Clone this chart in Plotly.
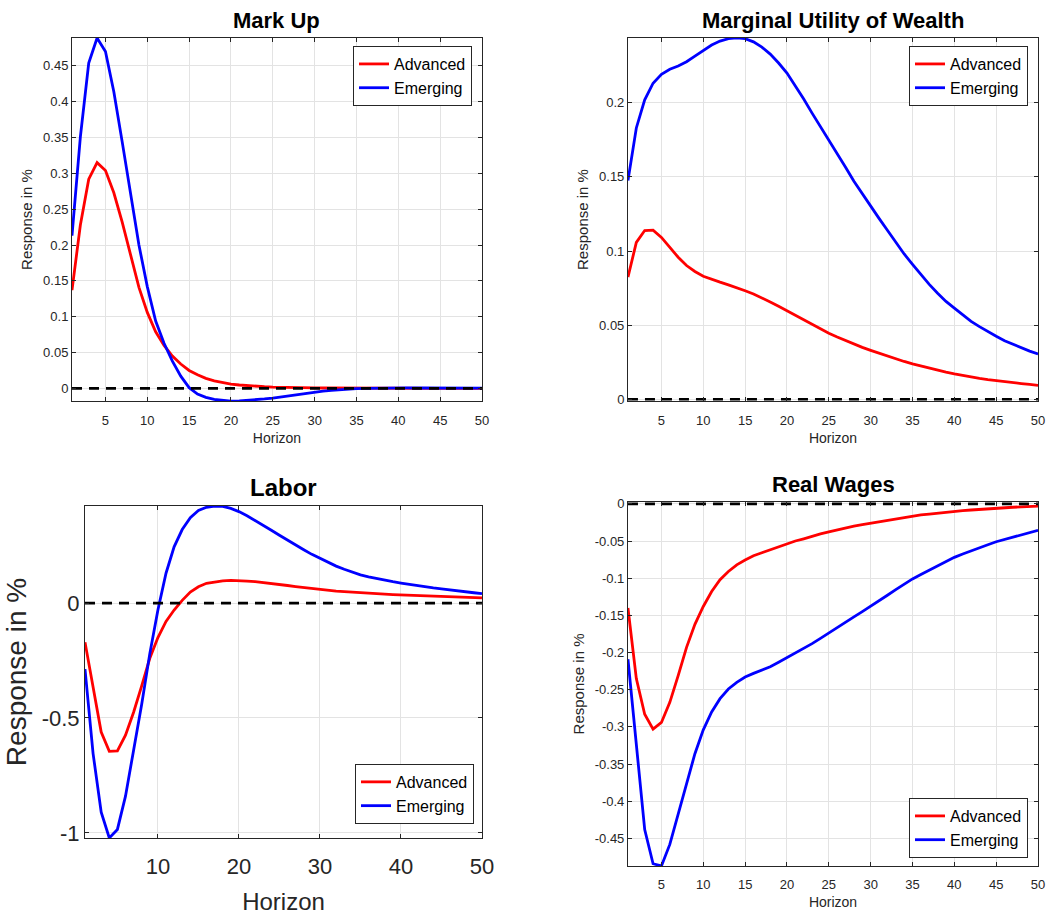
import plotly.graph_objects as go

horizon = list(range(1, 51))

markup_adv = [0.137, 0.228, 0.292, 0.315, 0.304, 0.273, 0.232, 0.187, 0.141, 0.106,
              0.079, 0.060, 0.045, 0.034, 0.025, 0.019, 0.014, 0.0105, 0.008, 0.006,
              0.0047, 0.0037, 0.0029, 0.0023, 0.0018, 0.0014, 0.0011, 0.0009, 0.0007, 0.0006,
              0.0005, 0.0004, 0.0004, 0.0003, 0.0003, 0.0003, 0.0002, 0.0002, 0.0002, 0.0002,
              0.0002, 0.0001, 0.0001, 0.0001, 0.0001, 0.0001, 0.0001, 0.0001, 0.0001, 0.0001]
markup_emg = [0.213, 0.351, 0.454, 0.489, 0.470, 0.414, 0.344, 0.272, 0.200, 0.142,
              0.094, 0.063, 0.038, 0.017, 0.001, -0.008, -0.0125, -0.0155, -0.0170, -0.0177,
              -0.0175, -0.0168, -0.0158, -0.0147, -0.0135, -0.0118, -0.0100, -0.0083, -0.0067, -0.0052,
              -0.0039, -0.0027, -0.0017, -0.0009, -0.0003, 0.0001, 0.0004, 0.0005, 0.0006, 0.0006,
              0.0006, 0.0005, 0.0005, 0.0004, 0.0004, 0.0003, 0.0003, 0.0002, 0.0002, 0.0002]

muw_adv = [0.0824, 0.1058, 0.1138, 0.1141, 0.1092, 0.1025, 0.0958, 0.0902, 0.0862, 0.0830,
           0.0808, 0.0790, 0.0772, 0.0754, 0.0732, 0.0710, 0.0685, 0.0656, 0.0627, 0.0596,
           0.0565, 0.0533, 0.0504, 0.0474, 0.0445, 0.0420, 0.0395, 0.0370, 0.0350, 0.0330,
           0.0310, 0.0290, 0.0272, 0.0255, 0.0239, 0.0224, 0.0210, 0.0196, 0.0183, 0.0171,
           0.0160, 0.0150, 0.0141, 0.0133, 0.0125, 0.0118, 0.0112, 0.0106, 0.0100, 0.0094]
muw_emg = [0.1475, 0.1830, 0.2020, 0.2132, 0.2192, 0.2226, 0.2248, 0.2277, 0.2315, 0.2355,
           0.2389, 0.2416, 0.2432, 0.2437, 0.2432, 0.2411, 0.2375, 0.2328, 0.2268, 0.2200,
           0.2115, 0.2025, 0.1930, 0.1840, 0.1750, 0.1660, 0.1565, 0.1470, 0.1385, 0.1300,
           0.1220, 0.1140, 0.1060, 0.0980, 0.0910, 0.0840, 0.0775, 0.0715, 0.0660, 0.0615,
           0.0570, 0.0525, 0.0490, 0.0455, 0.0425, 0.0395, 0.0370, 0.0345, 0.0325, 0.0305]

labor_adv = [-0.170, -0.370, -0.561, -0.645, -0.643, -0.575, -0.475, -0.360, -0.240, -0.150,
             -0.080, -0.030, 0.012, 0.048, 0.071, 0.086, 0.093, 0.097, 0.0985, 0.098,
             0.096, 0.093, 0.0895, 0.0855, 0.081, 0.0765, 0.072, 0.0675, 0.063, 0.059,
             0.0555, 0.0525, 0.0497, 0.047, 0.0447, 0.0425, 0.0405, 0.0387, 0.037, 0.0355,
             0.034, 0.0325, 0.031, 0.0297, 0.0284, 0.0272, 0.026, 0.0248, 0.0236, 0.0225]
labor_emg = [-0.287, -0.655, -0.910, -1.022, -0.985, -0.840, -0.640, -0.440, -0.220, -0.030,
             0.130, 0.245, 0.320, 0.372, 0.403, 0.417, 0.4225, 0.421, 0.412, 0.398,
             0.380, 0.360, 0.339, 0.317, 0.295, 0.273, 0.252, 0.232, 0.212, 0.194,
             0.177, 0.161, 0.147, 0.134, 0.123, 0.114, 0.106, 0.099, 0.093, 0.087,
             0.081, 0.076, 0.071, 0.066, 0.062, 0.057, 0.053, 0.049, 0.045, 0.041]

wages_adv = [-0.140, -0.235, -0.283, -0.303, -0.294, -0.267, -0.231, -0.193, -0.162, -0.138,
             -0.118, -0.102, -0.091, -0.082, -0.0756, -0.0698, -0.0658, -0.062, -0.0575, -0.0535,
             -0.050, -0.047, -0.0435, -0.0405, -0.0378, -0.035, -0.0325, -0.030, -0.028, -0.026,
             -0.024, -0.022, -0.020, -0.018, -0.0165, -0.015, -0.0137, -0.0124, -0.0112, -0.0102,
             -0.0092, -0.0083, -0.0074, -0.0066, -0.0058, -0.0052, -0.0046, -0.0040, -0.0035, -0.0031]
wages_emg = [-0.209, -0.322, -0.438, -0.484, -0.487, -0.458, -0.418, -0.376, -0.336, -0.304,
             -0.280, -0.262, -0.249, -0.240, -0.233, -0.228, -0.2236, -0.219, -0.213, -0.207,
             -0.201, -0.195, -0.188, -0.181, -0.1735, -0.166, -0.159, -0.152, -0.145, -0.138,
             -0.1305, -0.123, -0.1155, -0.108, -0.101, -0.095, -0.089, -0.083, -0.0775, -0.072,
             -0.0675, -0.063, -0.059, -0.055, -0.051, -0.0478, -0.0446, -0.0415, -0.0385, -0.0356]

zero_line = [0.0] * len(horizon)

titles = ["Mark Up", "Marginal Utility of Wealth", "Labor", "Real Wages"]
series_names = ["Advanced", "Emerging"]

xticks_fine = [5, 10, 15, 20, 25, 30, 35, 40, 45, 50]
xticks_coarse = [10, 20, 30, 40, 50]
yticks_markup = [0, 0.05, 0.1, 0.15, 0.2, 0.25, 0.3, 0.35, 0.4, 0.45]
ylabels_markup = ["0", "0.05", "0.1", "0.15", "0.2", "0.25", "0.3", "0.35", "0.4", "0.45"]
yticks_muw = [0, 0.05, 0.1, 0.15, 0.2]
ylabels_muw = ["0", "0.05", "0.1", "0.15", "0.2"]
yticks_labor = [-1, -0.5, 0]
ylabels_labor = ["-1", "-0.5", "0"]
yticks_wages = [0, -0.05, -0.1, -0.15, -0.2, -0.25, -0.3, -0.35, -0.4, -0.45]
ylabels_wages = ["0", "-0.05", "-0.1", "-0.15", "-0.2", "-0.25", "-0.3", "-0.35", "-0.4", "-0.45"]

FONT = "Liberation Sans, Arial, Helvetica, sans-serif"
RED = "#ff0000"
BLUE = "#0000ff"
AXC = "#262626"

panels = [
    dict(adv=markup_adv, emg=markup_emg, xt=xticks_fine, yt=yticks_markup, yl=ylabels_markup,
         xd=[0.0687, 0.4599], yd=[0.5617, 0.9585], tick=13, xtitle=14, ytitle=15, tsize=22,
         xso=7, xts=6, pad=(0, 0), leg=dict(x=0.4504, y=0.9497, yanchor="top")),
    dict(adv=muw_adv, emg=muw_emg, xt=xticks_fine, yt=yticks_muw, yl=ylabels_muw,
         xd=[0.5992, 0.9905], yd=[0.5617, 0.9585], tick=13, xtitle=14, ytitle=15, tsize=22,
         xso=7, xts=6, pad=(0.0012, 0), leg=dict(x=0.9809, y=0.9497, yanchor="top")),
    dict(adv=labor_adv, emg=labor_emg, xt=xticks_coarse, yt=yticks_labor, yl=ylabels_labor,
         xd=[0.0811, 0.4599], yd=[0.0842, 0.4470], tick=22, xtitle=24, ytitle=28, tsize=24,
         xso=9, xts=18, pad=(0, 0), leg=dict(x=0.4523, y=0.0995, yanchor="bottom")),
    dict(adv=wages_adv, emg=wages_emg, xt=xticks_fine, yt=yticks_wages, yl=ylabels_wages,
         xd=[0.5992, 0.9905], yd=[0.0536, 0.4514], tick=13, xtitle=14, ytitle=15, tsize=22,
         xso=6, xts=6, pad=(0, 0.0025), leg=dict(x=0.9809, y=0.0623, yanchor="bottom")),
]

fig = go.Figure()
layout = dict(
    width=1048, height=915,
    margin=dict(l=0, r=0, t=0, b=0, autoexpand=False),
    paper_bgcolor="white", plot_bgcolor="white",
    font=dict(family=FONT, color=AXC),
    annotations=[],
)

for i, p in enumerate(panels):
    n = i + 1
    sfx = "" if n == 1 else str(n)
    xa, ya = "x" + sfx, "y" + sfx
    legname = "legend" + sfx
    for name, vals, col in [(series_names[0], p["adv"], RED), (series_names[1], p["emg"], BLUE)]:
        fig.add_trace(go.Scatter(x=horizon, y=vals, mode="lines", name=name,
                                 line=dict(color=col, width=2.8), xaxis=xa, yaxis=ya,
                                 legend=legname, showlegend=True))
    fig.add_trace(go.Scatter(x=horizon, y=zero_line, mode="lines", showlegend=False,
                             line=dict(color="black", width=2.6, dash="10px,7px"),
                             xaxis=xa, yaxis=ya, hoverinfo="skip"))
    allv = p["adv"] + p["emg"] + zero_line
    ymin, ymax = min(allv) - p["pad"][0], max(allv) + p["pad"][1]
    common = dict(showline=True, linecolor=AXC, linewidth=1, mirror="allticks",
                  ticks="inside", ticklen=4, tickcolor=AXC, showgrid=True,
                  gridcolor="#e3e3e3", gridwidth=1, zeroline=False, automargin=False,
                  tickfont=dict(family=FONT, size=p["tick"], color=AXC))
    layout["xaxis" + sfx] = dict(common, domain=p["xd"], anchor=ya, range=[1, 50],
                                 tickvals=p["xt"], ticktext=[str(v) for v in p["xt"]],
                                 ticklabelstandoff=p["xso"],
                                 title=dict(text="Horizon", font=dict(size=p["xtitle"], color=AXC),
                                            standoff=p["xts"]))
    layout["yaxis" + sfx] = dict(common, domain=p["yd"], anchor=xa, range=[ymin, ymax],
                                 tickvals=p["yt"], ticktext=p["yl"],
                                 title=dict(text="Response in %", font=dict(size=p["ytitle"], color=AXC), standoff=6))
    layout[legname] = dict(x=p["leg"]["x"], y=p["leg"]["y"], xanchor="right", yanchor=p["leg"]["yanchor"],
                           xref="paper", yref="paper", bgcolor="white", bordercolor=AXC, borderwidth=1,
                           font=dict(family=FONT, size=16, color="black"), tracegroupgap=0)
    layout["annotations"].append(dict(text="<b>" + titles[i] + "</b>", x=0.5, y=1,
                                      xref=xa + " domain", yref=ya + " domain",
                                      xanchor="center", yanchor="bottom", yshift=3, showarrow=False,
                                      font=dict(family=FONT, size=p["tsize"], color="black")))

fig.update_layout(**layout)
fig.write_html("out.html", config={"displayModeBar": False},
               post_script="document.body.style.margin='0';document.body.style.padding='0';")
